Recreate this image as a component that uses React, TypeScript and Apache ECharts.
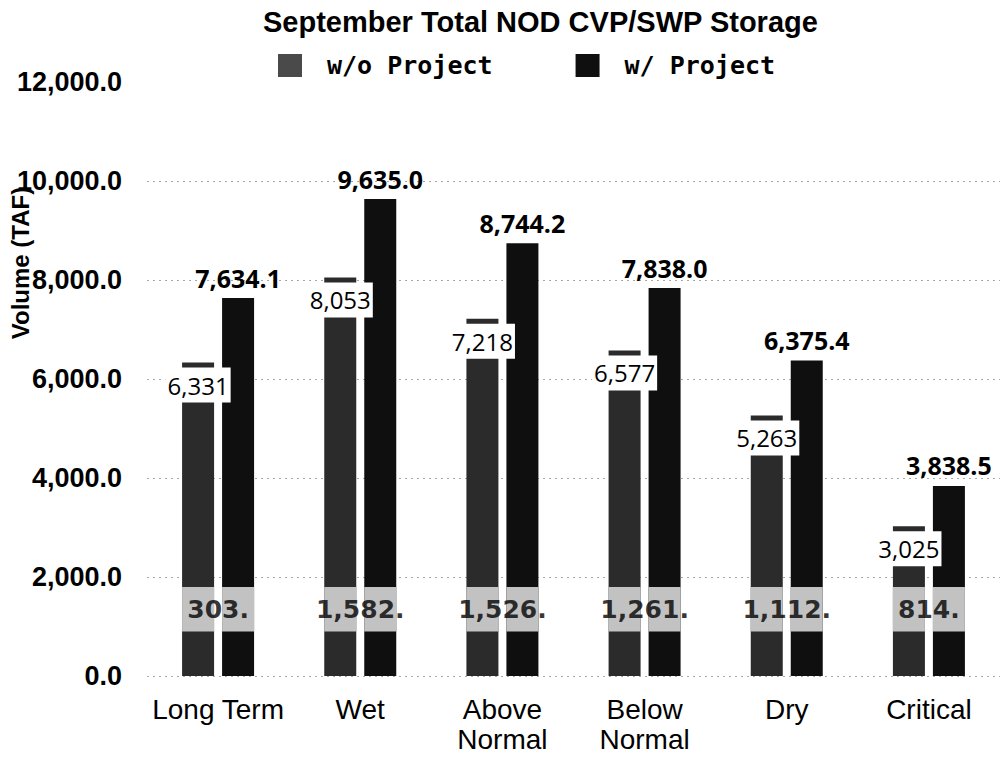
import React, { useEffect, useRef } from "react";
import * as echarts from "echarts";

const categories = ["Long Term", "Wet", "Above\nNormal", "Below\nNormal", "Dry", "Critical"];
const woProject = [6331, 8053, 7218, 6577, 5263, 3025];
const wProject = [7634.1, 9635.0, 8744.2, 7838.0, 6375.4, 3838.5];
const diffLabels = ["303.", "1,582.", "1,526.", "1,261.", "1,112.", "814."];
const bandRange = [900, 1800];
const yTicks = { min: 0, max: 12000, interval: 2000 };

export default function App() {
  const ref = useRef<HTMLDivElement>(null);
  useEffect(() => {
    if (!ref.current) return;
    const chart = echarts.init(ref.current, undefined, { renderer: "svg" });
    const bandBase = categories.map(() => bandRange[0]);
    const bandSize = categories.map(() => bandRange[1] - bandRange[0]);
    const bandMid = categories.map(() => (bandRange[0] + bandRange[1]) / 2);
    const barCommon = { barWidth: 32, barGap: "25%" };
    const bandStyle = { color: "#c2c2c2" };
    chart.setOption({
      animation: false,
      backgroundColor: "#ffffff",
      title: {
        text: "September Total NOD CVP/SWP Storage",
        left: 258,
        top: 2,
        textStyle: { fontFamily: "Liberation Sans", fontWeight: "bold", fontSize: 29, color: "#000" },
      },
      legend: {
        left: 273,
        top: 48,
        icon: "rect",
        itemWidth: 24,
        itemHeight: 23,
        itemGap: 83,
        data: [
          { name: "w/o Project", itemStyle: { color: "#4a4a4a" } },
          { name: "w/ Project", itemStyle: { color: "#0f0f0f" } },
        ],
        textStyle: {
          fontFamily: "DejaVu Sans Mono",
          fontWeight: "bold",
          fontSize: 25,
          color: "#000",
          padding: [0, 0, 0, 20],
        },
      },
      grid: { left: 147, right: 0, top: 82, bottom: 83, containLabel: false },
      xAxis: [
        {
          type: "category",
          data: categories,
          axisLine: { show: false },
          axisTick: { show: false },
          axisLabel: {
            color: "#000",
            fontFamily: "Liberation Sans",
            fontSize: 28,
            lineHeight: 30,
            margin: 18,
            interval: 0,
          },
        },
        { type: "category", data: categories, show: false },
      ],
      yAxis: {
        type: "value",
        min: yTicks.min,
        max: yTicks.max,
        interval: yTicks.interval,
        axisLine: { show: false },
        axisTick: { show: false },
        axisLabel: {
          color: "#000",
          fontFamily: "Liberation Sans",
          fontWeight: "bold",
          fontSize: 27,
          margin: 25,
          formatter: (v: number) => v.toLocaleString("en-US", { minimumFractionDigits: 1, maximumFractionDigits: 1 }),
        },
        splitLine: {
          showMaxLine: false,
          lineStyle: { color: "#a8a8a8", type: [2, 4], width: 1 },
        },
      },
      graphic: [
        {
          type: "text",
          x: 20,
          y: 263,
          rotation: Math.PI / 2,
          style: {
            text: "Volume (TAF)",
            textAlign: "center",
            textVerticalAlign: "middle",
            fontFamily: "Liberation Sans",
            fontWeight: "bold",
            fontSize: 24,
            fill: "#000",
          },
        },
      ],
      series: [
        {
          name: "w/o Project",
          type: "bar",
          xAxisIndex: 0,
          ...barCommon,
          data: woProject,
          itemStyle: { color: "#2b2b2b" },
          label: {
            show: true,
            position: "insideTop",
            distance: 5,
            backgroundColor: "#ffffff",
            padding: [5, 2, 5, 2],
            color: "#000",
            fontFamily: "Open Sans",
            fontSize: 24,
            lineHeight: 25,
            formatter: (p: any) => Number(p.value).toLocaleString("en-US"),
          },
        },
        {
          name: "w/ Project",
          type: "bar",
          xAxisIndex: 0,
          ...barCommon,
          data: wProject,
          itemStyle: { color: "#0f0f0f" },
          label: {
            show: true,
            position: "top",
            distance: 8,
            color: "#000",
            fontFamily: "Open Sans",
            fontWeight: "bold",
            fontSize: 25,
            formatter: (p: any) =>
              Number(p.value).toLocaleString("en-US", { minimumFractionDigits: 1, maximumFractionDigits: 1 }),
          },
        },
        {
          name: "bandBaseA",
          type: "bar",
          xAxisIndex: 1,
          stack: "a",
          ...barCommon,
          data: bandBase,
          silent: true,
          itemStyle: { color: "transparent" },
        },
        {
          name: "bandA",
          type: "bar",
          xAxisIndex: 1,
          stack: "a",
          ...barCommon,
          data: bandSize,
          silent: true,
          itemStyle: bandStyle,
        },
        {
          name: "bandBaseB",
          type: "bar",
          xAxisIndex: 1,
          stack: "b",
          ...barCommon,
          data: bandBase,
          silent: true,
          itemStyle: { color: "transparent" },
        },
        {
          name: "bandB",
          type: "bar",
          xAxisIndex: 1,
          stack: "b",
          ...barCommon,
          data: bandSize,
          silent: true,
          itemStyle: bandStyle,
        },
        {
          name: "diff",
          type: "scatter",
          xAxisIndex: 0,
          data: bandMid,
          symbolSize: 0,
          silent: true,
          label: {
            show: true,
            position: "inside",
            color: "#000",
            fontFamily: "DejaVu Sans",
            fontWeight: "bold",
            fontSize: 25,
            formatter: (p: any) => diffLabels[p.dataIndex],
          },
        },
      ],
    });
    return () => chart.dispose();
  }, []);
  return (
    <div
      ref={ref}
      style={{ position: "fixed", left: 0, top: 0, width: 1000, height: 759 }}
    />
  );
}
